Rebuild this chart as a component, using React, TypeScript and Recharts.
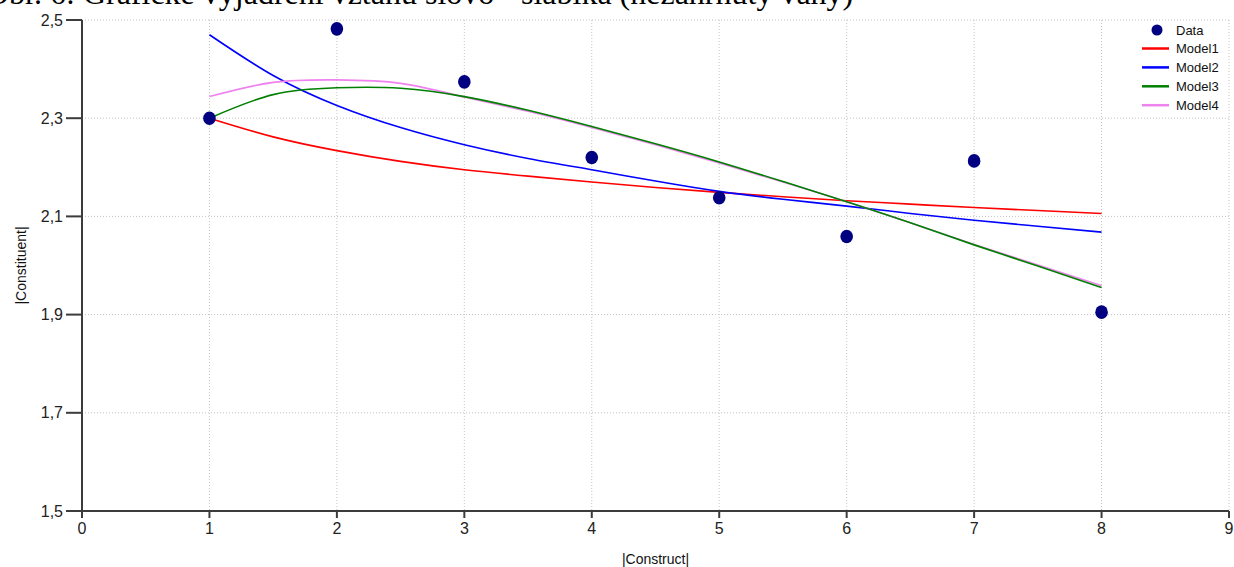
import {
  ComposedChart,
  Scatter,
  Line,
  XAxis,
  YAxis,
  CartesianGrid,
} from 'recharts';

// measured points
const dataX = [1, 2, 3, 4, 5, 6, 7, 8];
const dataY = [2.3, 2.482, 2.374, 2.22, 2.138, 2.059, 2.213, 1.905];

// fitted model curves, sampled every half step
const modelX = [1, 1.5, 2, 2.5, 3, 3.5, 4, 4.5, 5, 5.5, 6, 6.5, 7, 7.5, 8];
const model1 = [2.3, 2.262, 2.234, 2.212, 2.195, 2.182, 2.17, 2.159, 2.149, 2.14, 2.132, 2.125, 2.118, 2.112, 2.106];
const model2 = [2.47, 2.387, 2.326, 2.281, 2.246, 2.218, 2.195, 2.172, 2.151, 2.135, 2.121, 2.106, 2.092, 2.08, 2.068];
const model3 = [2.3, 2.348, 2.362, 2.361, 2.344, 2.316, 2.283, 2.248, 2.211, 2.171, 2.13, 2.087, 2.042, 1.999, 1.955];
const model4 = [2.344, 2.373, 2.378, 2.371, 2.343, 2.314, 2.281, 2.246, 2.209, 2.17, 2.13, 2.087, 2.043, 2.001, 1.959];

const xTicks = [0, 1, 2, 3, 4, 5, 6, 7, 8, 9];
const yTicks = [1.5, 1.7, 1.9, 2.1, 2.3, 2.5];

const title = 'Obr. 6: Grafické vyjádření vztahu slovo - slabika (nezahrnuty váhy)';

const DOT = '#000080';
const models = [
  { name: 'Model1', values: model1, color: '#ff0000' },
  { name: 'Model2', values: model2, color: '#0000ff' },
  { name: 'Model3', values: model3, color: '#008000' },
  { name: 'Model4', values: model4, color: '#ee82ee' },
];

const points = dataX.map((x, i) => ({ x, y: dataY[i] }));
const curve = (vals: number[]) => modelX.map((x, i) => ({ x, y: vals[i] }));

const FONT = '"Liberation Sans", Arial, sans-serif';
const tickStyle = { fontSize: 16, fill: '#222', fontFamily: FONT };

// legend drawn in the top right corner of the plot, over the grid
function LegendBox() {
  return (
    <svg
      width={124}
      height={100}
      style={{ position: 'absolute', left: 1110, top: 20, fontFamily: FONT, pointerEvents: 'none' }}
    >
      <circle cx={47} cy={10} r={5.5} fill={DOT} />
      <text x={66} y={10} fontSize={13} fill="#111" dominantBaseline="central">
        Data
      </text>
      {models.map((m, i) => {
        const y = 28.5 + i * 18.9;
        return (
          <g key={m.name}>
            <line x1={32} x2={59} y1={y} y2={y} stroke={m.color} strokeWidth={2.5} />
            <text x={66} y={y} fontSize={13} fill="#111" dominantBaseline="central">
              {m.name}
            </text>
          </g>
        );
      })}
    </svg>
  );
}

export default function App() {
  // draw Model4 under Model3
  const drawOrder = [models[0], models[1], models[3], models[2]];
  return (
    <div style={{ position: 'absolute', left: 0, top: 0, width: 1234, height: 567, background: '#fff' }}>
      <ComposedChart width={1234} height={567} margin={{ top: 20, right: 5, bottom: 0, left: 0 }}>
        <CartesianGrid stroke="#c4c4c4" strokeDasharray="1 2" />
        <XAxis
          type="number"
          dataKey="x"
          domain={[0, 9]}
          ticks={xTicks}
          interval={0}
          height={56}
          tickSize={7}
          tickMargin={5}
          tick={tickStyle}
          axisLine={{ stroke: '#3c3c3c', strokeWidth: 2 }}
          tickLine={{ stroke: '#3c3c3c', strokeWidth: 2 }}
          label={{
            value: '|Construct|',
            position: 'insideBottom',
            offset: 3,
            style: { fontSize: 14, fill: '#111', fontFamily: FONT },
          }}
        />
        <YAxis
          type="number"
          domain={[1.5, 2.5]}
          ticks={yTicks}
          interval={0}
          width={82}
          tickSize={16}
          tickMargin={3}
          tick={tickStyle}
          tickFormatter={(v: number) => v.toFixed(1).replace('.', ',')}
          axisLine={{ stroke: '#3c3c3c', strokeWidth: 2 }}
          tickLine={{ stroke: '#3c3c3c', strokeWidth: 2 }}
          label={{
            position: 'insideLeft',
            content: (p: any) => {
              const vb = p.viewBox || { y: 20, height: 491 };
              const cy = vb.y + vb.height / 2;
              return (
                <text
                  x={21}
                  y={cy}
                  transform={`rotate(-90 21 ${cy})`}
                  textAnchor="middle"
                  dominantBaseline="central"
                  fontSize={14}
                  fill="#111"
                  fontFamily={FONT}
                >
                  |Constituent|
                </text>
              );
            },
          }}
        />
        <Scatter
          name="Data"
          data={points}
          dataKey="y"
          fill={DOT}
          isAnimationActive={false}
          shape={(p: any) => <ellipse cx={p.cx} cy={p.cy} rx={6.3} ry={6.8} fill={DOT} />}
        />
        {drawOrder.map((m) => (
          <Line
            key={m.name}
            name={m.name}
            data={curve(m.values)}
            dataKey="y"
            type="natural"
            stroke={m.color}
            strokeWidth={1.6}
            dot={false}
            activeDot={false}
            isAnimationActive={false}
          />
        ))}
      </ComposedChart>
      <LegendBox />
      <svg
        width={1234}
        height={30}
        style={{ position: 'absolute', left: 0, top: 0, pointerEvents: 'none' }}
      >
        <text x={-14} y={4} fontSize={32} fill="#000" fontFamily='"Liberation Serif", "Times New Roman", serif'>
          {title}
        </text>
      </svg>
    </div>
  );
}
